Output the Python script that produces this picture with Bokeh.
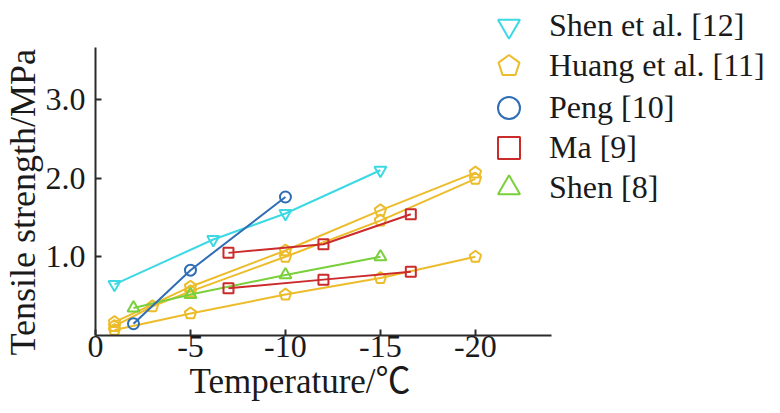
from bokeh.plotting import figure
from bokeh.models import Range1d, FixedTicker, Legend, LegendItem, Title
from bokeh.embed import file_html
from bokeh.resources import INLINE

# ---- data ----
shen12_t = [-1, -6.2, -10, -15]
shen12_s = [0.65, 1.22, 1.55, 2.10]

huang_a_t = [-1, -5, -10, -15, -20]
huang_a_s = [0.17, 0.62, 1.08, 1.59, 2.07]
huang_b_t = [-1, -3, -5, -10, -15, -20]
huang_b_s = [0.12, 0.37, 0.56, 1.00, 1.46, 1.99]
huang_c_t = [-1, -5, -10, -15, -20]
huang_c_s = [0.07, 0.28, 0.52, 0.73, 1.00]

peng_t = [-2, -5, -10]
peng_s = [0.15, 0.83, 1.76]

ma_a_t = [-7, -12, -16.6]
ma_a_s = [1.05, 1.16, 1.54]
ma_b_t = [-7, -12, -16.6]
ma_b_s = [0.60, 0.71, 0.81]

shen8_t = [-2, -5, -10, -15]
shen8_s = [0.35, 0.52, 0.77, 1.00]

x_ticks = [0, -5, -10, -15, -20]
x_tick_labels = ["0", "-5", "-10", "-15", "-20"]
y_ticks = [1, 2, 3]
y_tick_labels = ["1.0", "2.0", "3.0"]
x_axis_extent = (0, -24)
y_axis_extent = (0, 3.66)

C_SHEN12 = "#3cd9e4"
C_HUANG = "#ecbc2a"
C_PENG = "#2f6db5"
C_MA = "#cc2b2b"
C_SHEN8 = "#79d03a"

FONT = "Liberation Serif"
FONT_CJK = "'Liberation Serif', 'Noto Sans CJK SC'"

# frame spans the whole canvas to the right and top; axes are bounded
p = figure(width=764, height=410, output_backend="svg", toolbar_location=None,
           x_range=Range1d(0, -35.22), y_range=Range1d(0, 4.257),
           min_border_left=89, min_border_right=0, min_border_top=0,
           min_border_bottom=75)
p.outline_line_color = None
p.grid.visible = False
p.background_fill_color = "white"

for ax in (p.xaxis[0], p.yaxis[0]):
    ax.axis_line_color = "#2b2b2b"
    ax.axis_line_width = 2
    ax.major_tick_line_color = "#2b2b2b"
    ax.major_tick_line_width = 2
    ax.major_tick_in = 6
    ax.major_tick_out = 0
    ax.minor_tick_line_color = None
    ax.major_label_text_font = FONT
    ax.major_label_text_font_size = "32px"
    ax.major_label_text_color = "#1a1a1a"

p.xaxis.bounds = x_axis_extent
p.yaxis.bounds = y_axis_extent

p.xaxis.ticker = FixedTicker(ticks=x_ticks)
p.xaxis.major_label_overrides = dict(zip(x_ticks, x_tick_labels))
p.xaxis.major_label_standoff = 0

p.yaxis.ticker = FixedTicker(ticks=y_ticks)
p.yaxis.major_label_overrides = dict(zip(y_ticks, y_tick_labels))
p.yaxis.major_label_standoff = 10

# axis titles (placed as titles so they centre on the drawn axis, not the frame)
x_title = Title(text="Temperature/℃", align="left", offset=94, standoff=0,
                text_font=FONT_CJK, text_font_size="35px",
                text_font_style="normal", text_color="#1a1a1a")
p.add_layout(x_title, "below")
y_title = Title(text="Tensile strength/MPa", align="left", offset=-20, standoff=0,
                text_font=FONT, text_font_size="36px",
                text_font_style="normal", text_color="#1a1a1a")
p.add_layout(y_title, "left")

LW = 2
MS = 11

# Huang et al. [11]
huang_r = None
for t, s in ((huang_a_t, huang_a_s), (huang_b_t, huang_b_s), (huang_c_t, huang_c_s)):
    p.line(t, s, line_color=C_HUANG, line_width=LW)
    r = p.ngon(x=t, y=s, radius=6, radius_units="screen", n=5, angle=0,
               fill_color=None, line_color=C_HUANG, line_width=2)
    if huang_r is None:
        huang_r = r

# Shen [8]
p.line(shen8_t, shen8_s, line_color=C_SHEN8, line_width=LW)
shen8_r = p.scatter(shen8_t, shen8_s, marker="triangle", size=MS + 1,
                    fill_color=None, line_color=C_SHEN8, line_width=2)

# Ma [9]
ma_r = None
for t, s in ((ma_a_t, ma_a_s), (ma_b_t, ma_b_s)):
    p.line(t, s, line_color=C_MA, line_width=LW)
    r = p.scatter(t, s, marker="square", size=MS - 1,
                  fill_color=None, line_color=C_MA, line_width=2)
    if ma_r is None:
        ma_r = r

# Shen et al. [12]
p.line(shen12_t, shen12_s, line_color=C_SHEN12, line_width=LW)
shen12_r = p.scatter(shen12_t, shen12_s, marker="inverted_triangle", size=MS + 1,
                     fill_color=None, line_color=C_SHEN12, line_width=2)

# Peng [10]
p.line(peng_t, peng_s, line_color=C_PENG, line_width=LW)
peng_r = p.scatter(peng_t, peng_s, marker="circle", size=MS,
                   fill_color=None, line_color=C_PENG, line_width=2)

legend_entries = [
    ("Shen et al. [12]", shen12_r),
    ("Huang et al. [11]", huang_r),
    ("Peng [10]", peng_r),
    ("Ma [9]", ma_r),
    ("Shen [8]", shen8_r),
]
# one single-row legend per entry so that rows can be tighter than the glyph box
GLYPH = 55
row_centers = [25, 65, 107, 147, 187]   # screen px from the top of the canvas
frame_bottom = 335
for (label, rend), cy in zip(legend_entries, row_centers):
    lg = Legend(items=[LegendItem(label=label, renderers=[rend])],
                location=(386, int(round(frame_bottom - cy - GLYPH / 2))),
                glyph_width=GLYPH, glyph_height=GLYPH, label_height=GLYPH,
                padding=0, margin=0, label_standoff=13,
                border_line_color=None, background_fill_alpha=0,
                label_text_font=FONT, label_text_font_size="32px",
                label_text_color="#1a1a1a")
    p.add_layout(lg, "center")

open("out.html", "w").write(file_html(p, INLINE))
